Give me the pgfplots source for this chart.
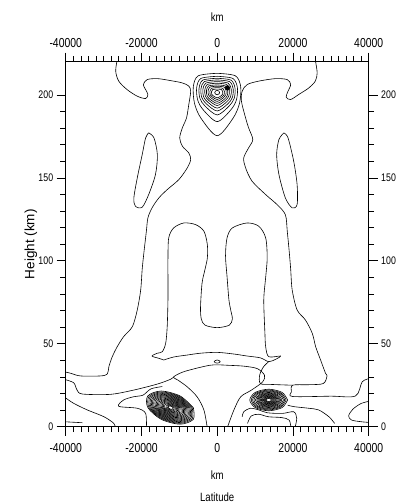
\documentclass[border=0pt]{standalone}
\usepackage{fontspec}
\setmainfont{Liberation Sans}[FakeStretch=0.8]
\newfontfamily\plainfont{Liberation Sans}
\usepackage{pgfplots}
\pgfplotsset{compat=1.18}
\begin{document}
\begin{tikzpicture}
\useasboundingbox (-65.7pt,-76.3pt) rectangle (334.3pt,426.7pt);
\pgfplotsset{
  cont/.style={black, line width=0.6pt, mark=none, smooth, tension=0.5},
  base/.style={at={(0pt,0pt)}, anchor=south west, scale only axis,
    width=303pt, height=365pt, xmin=-40000, xmax=40000, ymin=0, ymax=220,
    xtick={-40000,-20000,0,20000,40000}, minor x tick num=9,
    ytick={0,50,100,150,200}, minor y tick num=4,
    scaled x ticks=false, scaled y ticks=false,
    tick align=outside, major tick length=9pt, minor tick length=5.5pt,
    axis line style={line width=0.7pt}, tick style={line width=0.6pt, black},
    /pgf/number format/assume math mode=true}
}
\begin{axis}[base,
  xticklabels={-40000,-20000,0,20000,40000},
  xticklabel style={font=\fontsize{13}{13}\selectfont, yshift=-4pt},
  yticklabel style={font=\fontsize{11}{11}\selectfont},
  xtick pos=both, ytick pos=both]
% bull's-eye near the top
\addplot[cont] coordinates {(0,213) (4800,211.5) (6200,205) (5900,195) (4200,186) (0,175.4) (-4300,186) (-6000,195) (-6300,205) (-5000,211.5) (0,213)};
\addplot[cont] coordinates {(0,211.2) (4128,209.9) (5332,204.4) (5074,197.0) (3612,191.0) (0,183.9) (-3698,191.0) (-5160,197.0) (-5418,204.4) (-4300,209.9) (0,211.2)};
\addplot[cont] coordinates {(0,210) (3648,208.9) (4712,204) (4484,197.9) (3192,193.4) (0,187.9) (-3268,193.4) (-4560,197.9) (-4788,204) (-3800,208.9) (0,210)};
\addplot[cont] coordinates {(0,209) (3264,208) (4216,203.7) (4012,198.5) (2856,194.7) (0,190.3) (-2924,194.7) (-4080,198.5) (-4284,203.7) (-3400,208) (0,209)};
\addplot[cont] coordinates {(0,208) (2880,207.1) (3720,203.3) (3540,198.9) (2520,195.8) (0,192) (-2580,195.8) (-3600,198.9) (-3780,203.3) (-3000,207.1) (0,208)};
\addplot[cont] coordinates {(0,207) (2496,206.3) (3224,203) (3068,199.3) (2184,196.7) (0,193.6) (-2236,196.7) (-3120,199.3) (-3276,203) (-2600,206.3) (0,207)};
\addplot[cont] coordinates {(0,206) (2160,205.4) (2790,202.7) (2655,199.6) (1890,197.4) (0,194.9) (-1935,197.4) (-2700,199.6) (-2835,202.7) (-2250,205.4) (0,206)};
\addplot[cont] coordinates {(0,205.2) (1824,204.7) (2356,202.4) (2242,199.9) (1596,198.2) (0,196.1) (-1634,198.2) (-2280,199.9) (-2394,202.4) (-1900,204.7) (0,205.2)};
\addplot[cont] coordinates {(0,204.4) (1488,203.9) (1922,202.1) (1829,200.1) (1302,198.8) (0,197.2) (-1333,198.8) (-1860,200.1) (-1953,202.1) (-1550,203.9) (0,204.4)};
\addplot[cont] coordinates {(0,203.5) (1152,203.2) (1488,201.8) (1416,200.3) (1008,199.4) (0,198.2) (-1032,199.4) (-1440,200.3) (-1512,201.8) (-1200,203.2) (0,203.5)};
\addplot[cont] coordinates {(0,202.7) (460,202.3) (650,201.4) (460,200.5) (0,200.1) (-460,200.5) (-650,201.4) (-460,202.3) (0,202.7)};
\addplot[cont, fill=black] coordinates {(2720,205.6) (3110,205.2) (3270,204.2) (3110,203.2) (2720,202.8) (2330,203.2) (2170,204.2) (2330,205.2) (2720,205.6)};
% outer contour, left
\addplot[cont] coordinates {(-26400,221) (-26800,214.3) (-26000,208.3) (-23800,203.2) (-21100,199.2) (-18900,197.8) (-18300,200.2) (-18900,203.2) (-19500,206.2) (-18500,209.2) (-15800,209.8) (-12300,208.6) (-9200,207.2) (-7500,205.3) (-7000,202.2) (-7500,194.2) (-8100,186.1) (-9200,180.1) (-9900,174.1) (-9200,169.1) (-7500,165) (-7000,161) (-7900,156) (-10100,149) (-13200,142.9) (-15400,137.9) (-17200,131.9) (-18300,125.8) (-18700,117.8) (-19300,106) (-19800,95) (-20200,82.4) (-21100,70.4) (-22400,60.3) (-24700,54.3) (-26400,48.2) (-27700,42.2) (-28600,36.2) (-29000,31.8) (-30800,30.6) (-36100,30.6) (-38700,32.2) (-40500,33.2)};
% outer contour, right
\addplot[cont] coordinates {(25900,221) (26400,213.3) (25900,208.3) (24200,204.2) (21500,200.2) (19400,197.2) (18200,198.6) (18700,202.2) (19400,206.2) (18500,209.2) (15400,209.8) (11000,208.3) (7900,206.2) (6600,202.2) (6400,196.2) (7500,186.1) (8300,180.1) (9400,173.1) (8300,168.1) (7000,162) (7500,156) (9200,148) (12800,139.9) (15800,133.9) (18000,127.8) (18500,117.8) (19000,106) (19400,95) (19800,82.4) (21100,70.4) (23300,64.3) (25100,56.3) (26000,48.2) (27300,40.2) (28600,32.2) (29000,30.6) (28000,26) (24000,25.3) (19900,25) (19600,21) (19900,18.2) (30000,18.4) (36500,18.5) (38300,27.1) (40500,29.2)};
% side ovals
\addplot[cont] coordinates {(-18100,177.1) (-16700,174.1) (-15800,164) (-16300,152) (-18100,139.9) (-19800,132.3) (-21600,132.9) (-22000,137.9) (-21100,150) (-19800,164) (-18900,174.1) (-18100,177.1)};
\addplot[cont] coordinates {(17600,177.1) (16300,173.1) (15700,164) (16300,152) (18000,137.9) (19800,131.9) (21100,133.9) (21100,145.9) (20200,160) (18700,174.1) (17600,177.1)};
% inner lobes
\addplot[cont] coordinates {(-14100,40.2) (-15400,41.2) (-17200,42.6) (-15800,44.3) (-14500,45.2) (-13600,50.3) (-13200,60.3) (-13000,76.4) (-13000,90) (-13000,101.7) (-12800,113.8) (-11500,119.8) (-8800,122.8) (-5700,121.8) (-3500,117.8) (-2600,109.7) (-2600,101.7) (-3200,95) (-4000,86.5) (-4400,72) (-4200,65) (-3200,61.2) (0,59.7) (3200,61.2) (4000,65) (3600,70) (3100,76.4) (2600,90.5) (2200,103) (2600,113.8) (4000,119.8) (7900,122.8) (11000,120.8) (12800,113.8) (13200,101.7) (12800,90) (12300,76.4) (12600,56.3) (12800,48.2) (13600,42.2) (16700,42.6) (15400,40.6) (13600,39.2) (11400,41.5) (7900,42.6) (4400,43.8) (0,44.8) (-4400,44.3) (-7900,43.2) (-11500,42) (-14100,40.2)};
% lower left lines
\addplot[cont] coordinates {(-40500,28.6) (-37900,26.5) (-37000,22.1) (-35600,19.7) (-28200,19.5) (-22000,22.1) (-15800,25.7) (-12300,28.6) (-11500,30)};
\addplot[cont] coordinates {(-40500,18.1) (-37900,14.1) (-34300,10.1) (-29900,6.0) (-27300,2.0) (-26800,-1)};
\addplot[cont] coordinates {(-40500,3.0) (-35600,2.4)};
\addplot[cont] coordinates {(-18700,-1) (-18900,8) (-21100,11.1) (-26000,12.3) (-24700,16.1) (-22000,18.1) (-19600,19) (-17500,22.8) (-14500,24.2)};
% central tent
\addplot[cont] coordinates {(-2600,-1) (-3500,10) (-5300,18) (-7900,24) (-10300,28) (-11500,30) (-9000,33) (-5000,35.5) (-2000,37) (0,37.3) (3000,37) (7000,36.5) (10600,35) (12500,31) (12000,27) (9000,22) (6200,18) (4400,10) (2600,-1)};
\addplot[cont] coordinates {(0,40.2) (550,39.8) (800,39.2) (550,38.6) (0,38.3) (-550,38.6) (-800,39.2) (-550,39.8) (0,40.2)};
\addplot[cont] coordinates {(13600,39.2) (12200,36) (11200,31) (11400,26) (14000,25.5) (19900,25)};
% left blob
\addplot[cont] coordinates {(-6300,11.5) (-9825,18.57) (-14800,21.5) (-18311,18.57) (-18300,11.5) (-14775,4.43) (-9800,1.5) (-6289,4.43) (-6300,11.5)};
\addplot[cont] coordinates {(-6600,11.5) (-9949,18.22) (-14675,21.0) (-18010,18.22) (-18000,11.5) (-14651,4.78) (-9925,2.0) (-6590,4.78) (-6600,11.5)};
\addplot[cont] coordinates {(-6900,11.5) (-10072,17.86) (-14550,20.5) (-17710,17.86) (-17700,11.5) (-14528,5.14) (-10050,2.5) (-6890,5.14) (-6900,11.5)};
\addplot[cont] coordinates {(-7200,11.5) (-10196,17.51) (-14425,20.0) (-17409,17.51) (-17400,11.5) (-14404,5.49) (-10175,3.0) (-7191,5.49) (-7200,11.5)};
\addplot[cont] coordinates {(-7500,11.5) (-10320,17.16) (-14300,19.5) (-17109,17.16) (-17100,11.5) (-14280,5.84) (-10300,3.5) (-7491,5.84) (-7500,11.5)};
\addplot[cont] coordinates {(-7800,11.5) (-10444,16.8) (-14175,19.0) (-16808,16.8) (-16800,11.5) (-14156,6.2) (-10425,4.0) (-7792,6.2) (-7800,11.5)};
\addplot[cont] coordinates {(-8100,11.5) (-10567,16.45) (-14050,18.5) (-16508,16.45) (-16500,11.5) (-14033,6.55) (-10550,4.5) (-8092,6.55) (-8100,11.5)};
\addplot[cont] coordinates {(-8400,11.5) (-10691,16.1) (-13925,18.0) (-16207,16.1) (-16200,11.5) (-13909,6.9) (-10675,5.0) (-8393,6.9) (-8400,11.5)};
\addplot[cont] coordinates {(-8700,11.5) (-10815,15.74) (-13800,17.5) (-15907,15.74) (-15900,11.5) (-13785,7.26) (-10800,5.5) (-8693,7.26) (-8700,11.5)};
\addplot[cont] coordinates {(-9000,11.5) (-10939,15.39) (-13675,17.0) (-15606,15.39) (-15600,11.5) (-13661,7.61) (-10925,6.0) (-8994,7.61) (-9000,11.5)};
\addplot[cont] coordinates {(-9300,11.5) (-11062,15.04) (-13550,16.5) (-15306,15.04) (-15300,11.5) (-13538,7.96) (-11050,6.5) (-9294,7.96) (-9300,11.5)};
\addplot[cont] coordinates {(-9600,11.5) (-11186,14.68) (-13425,16.0) (-15005,14.68) (-15000,11.5) (-13414,8.32) (-11175,7.0) (-9595,8.32) (-9600,11.5)};
\addplot[cont] coordinates {(-9900,11.5) (-11310,14.33) (-13300,15.5) (-14704,14.33) (-14700,11.5) (-13290,8.67) (-11300,7.5) (-9896,8.67) (-9900,11.5)};
\addplot[cont] coordinates {(-10200,11.5) (-11434,13.97) (-13175,15.0) (-14404,13.97) (-14400,11.5) (-13166,9.03) (-11425,8.0) (-10196,9.03) (-10200,11.5)};
\addplot[cont] coordinates {(-10500,11.5) (-11557,13.62) (-13050,14.5) (-14103,13.62) (-14100,11.5) (-13043,9.38) (-11550,8.5) (-10497,9.38) (-10500,11.5)};
\addplot[cont] coordinates {(-10800,11.5) (-11681,13.27) (-12925,14.0) (-13803,13.27) (-13800,11.5) (-12919,9.73) (-11675,9.0) (-10797,9.73) (-10800,11.5)};
\addplot[cont] coordinates {(-11100,11.5) (-11805,12.91) (-12800,13.5) (-13502,12.91) (-13500,11.5) (-12795,10.09) (-11800,9.5) (-11098,10.09) (-11100,11.5)};
\addplot[cont] coordinates {(-11400,11.5) (-11929,12.56) (-12675,13.0) (-13202,12.56) (-13200,11.5) (-12671,10.44) (-11925,10.0) (-11398,10.44) (-11400,11.5)};
\addplot[cont] coordinates {(-11700,11.5) (-12052,12.21) (-12550,12.5) (-12901,12.21) (-12900,11.5) (-12548,10.79) (-12050,10.5) (-11699,10.79) (-11700,11.5)};
% right blob
\addplot[cont] coordinates {(18600,16.1) (17135,20.7) (13600,22.6) (10065,20.7) (8600,16.1) (10065,11.5) (13600,9.6) (17135,11.5) (18600,16.1)};
\addplot[cont] coordinates {(18200,16.1) (16852,20.33) (13600,22.08) (10348,20.33) (9000,16.1) (10348,11.87) (13600,10.12) (16852,11.87) (18200,16.1)};
\addplot[cont] coordinates {(17850,16.1) (16605,20.0) (13600,21.6) (10595,20.0) (9350,16.1) (10595,12.2) (13600,10.6) (16605,12.2) (17850,16.1)};
\addplot[cont] coordinates {(17500,16.1) (16357,19.69) (13600,21.17) (10843,19.69) (9700,16.1) (10843,12.51) (13600,11.03) (16357,12.51) (17500,16.1)};
\addplot[cont] coordinates {(17100,16.1) (16075,19.3) (13600,20.65) (11125,19.3) (10100,16.1) (11125,12.9) (13600,11.55) (16075,12.9) (17100,16.1)};
\addplot[cont] coordinates {(16750,16.1) (15827,19.0) (13600,20.2) (11373,19.0) (10450,16.1) (11373,13.2) (13600,12.0) (15827,13.2) (16750,16.1)};
\addplot[cont] coordinates {(16450,16.1) (15615,18.7) (13600,19.8) (11585,18.7) (10750,16.1) (11585,13.5) (13600,12.4) (15615,13.5) (16450,16.1)};
\addplot[cont] coordinates {(16150,16.1) (15403,18.45) (13600,19.42) (11797,18.45) (11050,16.1) (11797,13.75) (13600,12.78) (15403,13.75) (16150,16.1)};
\addplot[cont] coordinates {(15850,16.1) (15191,18.2) (13600,19.0) (12009,18.2) (11350,16.1) (12009,14.0) (13600,13.2) (15191,14.0) (15850,16.1)};
\addplot[cont] coordinates {(15550,16.1) (14979,17.89) (13600,18.64) (12221,17.89) (11650,16.1) (12221,14.31) (13600,13.56) (14979,14.31) (15550,16.1)};
\addplot[cont] coordinates {(15300,16.1) (14802,17.7) (13600,18.3) (12398,17.7) (11900,16.1) (12398,14.5) (13600,13.9) (14802,14.5) (15300,16.1)};
\addplot[cont] coordinates {(15050,16.1) (14625,17.43) (13600,17.99) (12575,17.43) (12150,16.1) (12575,14.77) (13600,14.21) (14625,14.77) (15050,16.1)};
\addplot[cont] coordinates {(14800,16.1) (14448,17.2) (13600,17.7) (12752,17.2) (12400,16.1) (12752,15.0) (13600,14.5) (14448,15.0) (14800,16.1)};
\addplot[cont] coordinates {(14550,16.1) (14272,16.97) (13600,17.34) (12928,16.97) (12650,16.1) (12928,15.23) (13600,14.86) (14272,15.23) (14550,16.1)};
\addplot[cont] coordinates {(14300,16.1) (14095,16.7) (13600,17.0) (13105,16.7) (12900,16.1) (13105,15.5) (13600,15.2) (14095,15.5) (14300,16.1)};
% lower right lines
\addplot[cont] coordinates {(6600,6.0) (7000,9.0) (8800,11.1) (11000,10.1) (13200,8.4) (17200,8.0) (20200,9.0) (21000,5) (20500,-1)};
\addplot[cont] coordinates {(8000,2) (9000,6.5) (11000,7.5) (13500,6) (17000,5.5) (19000,4) (19500,-1)};
\addplot[cont] coordinates {(18600,13) (20200,12.1) (24200,11.1) (26800,10.1) (29500,6) (31000,2)};
\addplot[cont] coordinates {(40500,15.5) (38000,14) (35800,10.5) (34700,6.5) (35500,4) (38000,3) (40500,2.5)};
\end{axis}
\begin{axis}[base, axis line style={draw=none}, tick style={draw=none},
  xticklabels={-40000,-20000,0,20000,40000},
  xticklabel pos=upper, yticklabel pos=right,
  xticklabel style={font=\fontsize{13}{13}\selectfont, yshift=2pt},
  yticklabel style={font=\fontsize{11}{11}\selectfont}]
\end{axis}
\node[font=\fontsize{12}{12}\selectfont] at (151.5pt,410pt) {km};
\node[font=\fontsize{12}{12}\selectfont] at (151.5pt,-48pt) {km};
\node[font=\fontsize{12}{12}\selectfont] at (151.5pt,-71pt) {Latitude};
\node[font=\plainfont\fontsize{13.5}{13.5}\selectfont, rotate=90] at (-34.7pt,182.5pt) {Height (km)};
\end{tikzpicture}
\end{document}
